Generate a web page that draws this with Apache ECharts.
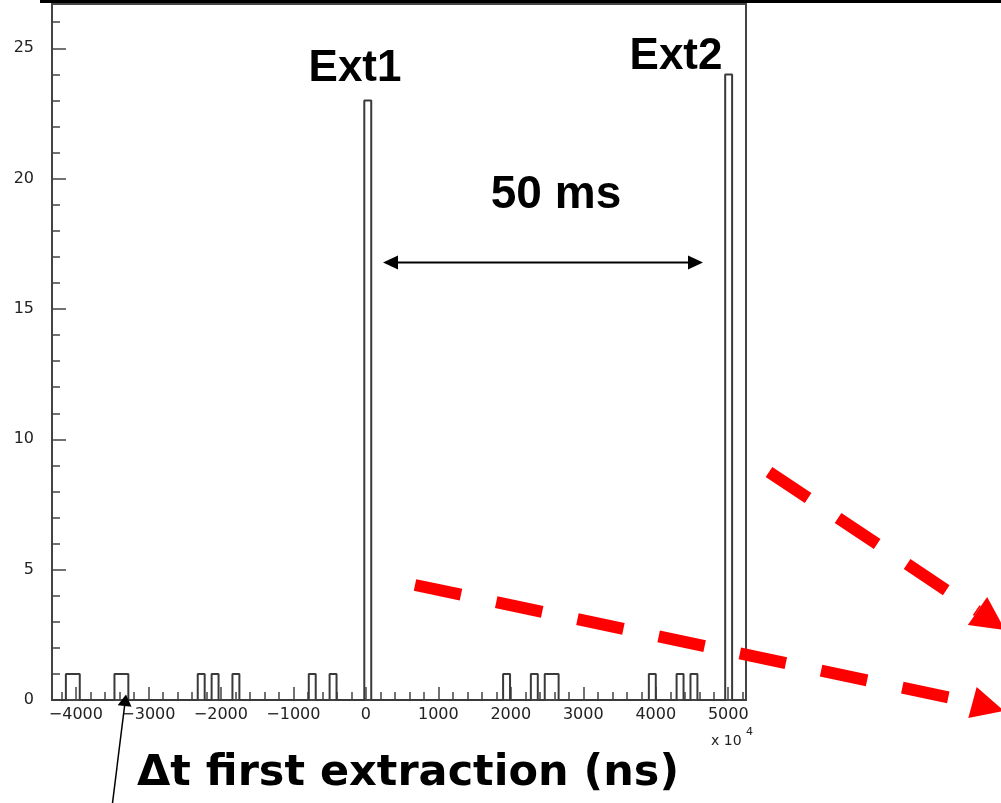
<!DOCTYPE html>
<html>
<head>
<meta charset="utf-8">
<script src="https://cdn.jsdelivr.net/npm/echarts@6/dist/echarts.min.js"></script>
<style>
html,body{margin:0;padding:0;background:#fff;}
#chart{width:1001px;height:803px;}
</style>
</head>
<body>
<div id="chart"></div>
<script>
// ---- data ----
const binStart = -4330;          // low edge of first bin (x10^4 ns)
const binWidth = 95.75;          // bin width (x10^4 ns)
const binCounts = [
  0,0,1,1,0,0,0,0,0,1, 1,0,0,0,0,0,0,0,0,0,
  0,1,0,1,0,0,1,0,0,0, 0,0,0,0,0,0,0,1,0,0,
  1,0,0,0,0,23,0,0,0,0, 0,0,0,0,0,0,0,0,0,0,
  0,0,0,0,0,1,0,0,0,1, 0,1,1,0,0,0,0,0,0,0,
  0,0,0,0,0,0,1,0,0,0, 1,0,1,0,0,0,0,24,0,0
];
const xMin = -4330, xMax = 5245;
const yMin = 0, yMax = 26.7;
const xLabelValues = [-4000,-3000,-2000,-1000,0,1000,2000,3000,4000,5000];
const xMinorValues = [-4200,-4000,-3800,-3600,-3400,-3200,-3000,-2800,-2600,-2400,-2200,-2000,-1800,-1600,-1400,-1200,-1000,-800,-600,-400,-200,0,200,400,600,800,1000,1200,1400,1600,1800,2000,2200,2400,2600,2800,3000,3200,3400,3600,3800,4000,4200,4400,4600,4800,5000,5200];
const yLabelValues = [0,5,10,15,20,25];
const yMinorValues = [0,1,2,3,4,5,6,7,8,9,10,11,12,13,14,15,16,17,18,19,20,21,22,23,24,25,26];

// histogram outline built from bins
const outline = [[xMin, 0]];
binCounts.forEach((c, i) => {
  const lo = binStart + i * binWidth, hi = lo + binWidth;
  outline.push([lo, c]);
  outline.push([hi, c]);
});
outline.push([xMax, 0]);

const axisCol = '#444';
const labelFont = {fontFamily: 'DejaVu Sans', fontSize: 16, color: '#222'};
const fmt = v => String(v).replace('-', '\u2212');

const chart = echarts.init(document.getElementById('chart'), null, {renderer: 'canvas'});

function arrowHead(tip, base, half, color) {
  const dx = tip[0] - base[0], dy = tip[1] - base[1];
  const L = Math.hypot(dx, dy);
  const px = -dy / L * half, py = dx / L * half;
  return {type: 'polygon', z: 100,
    shape: {points: [tip, [base[0] + px, base[1] + py], [base[0] - px, base[1] - py]]},
    style: {fill: color}};
}

const option = {
  animation: false,
  backgroundColor: '#fff',
  grid: {left: 52, right: 255, top: 4, bottom: 103, show: true,
         borderColor: axisCol, borderWidth: 2, backgroundColor: 'transparent'},
  xAxis: [
    {type: 'value', min: xMin, max: xMax, position: 'bottom',
     axisLine: {show: true, onZero: false, lineStyle: {color: axisCol, width: 2}},
     axisTick: {show: true, inside: true, length: 13, customValues: xLabelValues, lineStyle: {color: axisCol, width: 1.5}},
     axisLabel: {show: true, customValues: xLabelValues, margin: 7, formatter: fmt, ...labelFont},
     splitLine: {show: false}},
    {type: 'value', min: xMin, max: xMax, position: 'bottom',
     axisLine: {show: false, onZero: false},
     axisTick: {show: true, inside: true, length: 8, customValues: xMinorValues, lineStyle: {color: axisCol, width: 1.5}},
     axisLabel: {show: false},
     splitLine: {show: false}}
  ],
  yAxis: [
    {type: 'value', min: yMin, max: yMax, position: 'left',
     axisLine: {show: true, onZero: false, lineStyle: {color: axisCol, width: 2}},
     axisTick: {show: true, inside: true, length: 14, customValues: yLabelValues, lineStyle: {color: axisCol, width: 1.5}},
     axisLabel: {show: true, customValues: yLabelValues, margin: 18, formatter: fmt, ...labelFont},
     splitLine: {show: false}},
    {type: 'value', min: yMin, max: yMax, position: 'left',
     axisLine: {show: false, onZero: false},
     axisTick: {show: true, inside: true, length: 8, customValues: yMinorValues, lineStyle: {color: axisCol, width: 1.5}},
     axisLabel: {show: false},
     splitLine: {show: false}}
  ],
  series: [{
    type: 'line', data: outline, xAxisIndex: 0, yAxisIndex: 0,
    showSymbol: false, symbol: 'none',
    lineStyle: {color: '#3a3a3a', width: 2},
    z: 5
  }],
  graphic: [
    // top border bar of the slide
    {type: 'rect', shape: {x: 40, y: 0, width: 961, height: 3}, style: {fill: '#000'}, z: 50},
    // annotations
    {type: 'text', z: 60, style: {text: 'Ext1', x: 355, y: 69, textAlign: 'center', textVerticalAlign: 'middle',
      font: 'bold 44px "Liberation Sans", Arial, sans-serif', fill: '#000'}},
    {type: 'text', z: 60, style: {text: 'Ext2', x: 676, y: 57, textAlign: 'center', textVerticalAlign: 'middle',
      font: 'bold 44px "Liberation Sans", Arial, sans-serif', fill: '#000'}},
    {type: 'text', z: 60, style: {text: '50 ms', x: 556, y: 195, textAlign: 'center', textVerticalAlign: 'middle',
      font: 'bold 46px "Liberation Sans", Arial, sans-serif', fill: '#000'}},
    // double arrow
    {type: 'line', z: 60, shape: {x1: 396, y1: 262.5, x2: 690, y2: 262.5}, style: {stroke: '#000', lineWidth: 2}},
    arrowHead([383, 262.5], [398, 262.5], 7, '#000'),
    arrowHead([703, 262.5], [688, 262.5], 7, '#000'),
    // x 10^4
    {type: 'text', z: 60, style: {text: 'x 10', x: 711, y: 741, textAlign: 'left', textVerticalAlign: 'middle',
      font: '14px "DejaVu Sans", sans-serif', fill: '#222'}},
    {type: 'text', z: 60, style: {text: '4', x: 746, y: 732, textAlign: 'left', textVerticalAlign: 'middle',
      font: '11px "DejaVu Sans", sans-serif', fill: '#222'}},
    // axis title
    {type: 'text', z: 60, style: {text: 'Δt first extraction (ns)', x: 408, y: 774, textAlign: 'center', textVerticalAlign: 'middle',
      font: 'bold 43px "DejaVu Sans", sans-serif', fill: '#000'}},
    // thin pointer arrow
    {type: 'line', z: 60, shape: {x1: 112.5, y1: 803, x2: 124.8, y2: 704}, style: {stroke: '#000', lineWidth: 1.5}},
    arrowHead([126, 694.5], [124.6, 706], 7, '#000'),
    // red dashed arrows
    {type: 'line', z: 70, shape: {x1: 769, y1: 472, x2: 977.5, y2: 611},
     style: {stroke: '#ff0000', lineWidth: 12, lineDash: [47, 36], lineCap: 'butt'}},
    arrowHead([1005, 630], [977.5, 611], 17, '#ff0000'),
    {type: 'line', z: 70, shape: {x1: 415, y1: 585, x2: 972.5, y2: 702.5},
     style: {stroke: '#ff0000', lineWidth: 12, lineDash: [47, 36], lineCap: 'butt'}},
    arrowHead([1004, 711], [972.5, 702.5], 16, '#ff0000')
  ]
};
chart.setOption(option);
</script>
</body>
</html>
